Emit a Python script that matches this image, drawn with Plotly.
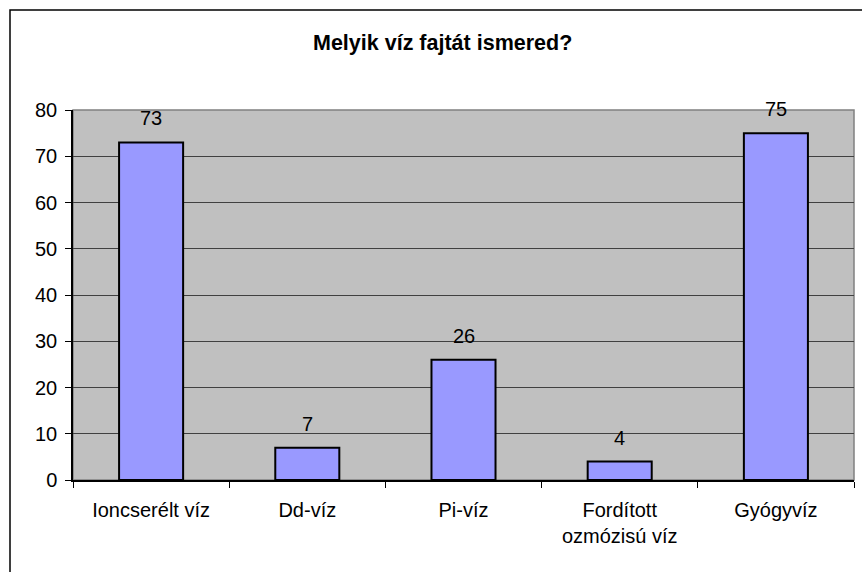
import plotly.graph_objects as go

categories = ["Ioncserélt víz", "Dd-víz", "Pi-víz", "Fordított<br>ozmózisú víz", "Gyógyvíz"]
values = [73, 7, 26, 4, 75]
y_ticks = [0, 10, 20, 30, 40, 50, 60, 70, 80]
title_text = "Melyik víz fajtát ismered?"

W, H = 862, 572
L, R, T, B = 73, 8, 110, 92
pw = W - L - R
ph = H - T - B

def px_x(p):
    return (p - L) / pw

def px_y(p):
    return (H - B - p) / ph

font = "Liberation Sans, Arial, sans-serif"

fig = go.Figure()
fig.add_trace(go.Bar(
    x=categories, y=values,
    marker=dict(color="#9999ff", line=dict(color="black", width=2)),
    hoverinfo="skip",
))

for c, v in zip(categories, values):
    fig.add_annotation(x=c, y=v, text=str(v), showarrow=False,
                       yanchor="bottom", yshift=11,
                       font=dict(family=font, size=20, color="black"))

fig.add_annotation(xref="paper", yref="paper", x=px_x(442), y=px_y(43),
                   text="<b>" + title_text + "</b>", showarrow=False,
                   xanchor="center", yanchor="middle",
                   font=dict(family=font, size=21.5, color="black"))

# plot area border (gray)
fig.add_shape(type="rect", xref="paper", yref="paper", x0=0, y0=0, x1=1, y1=1,
              line=dict(color="#808080", width=1.5), layer="below")
# outer chart border
fig.add_shape(type="rect", xref="paper", yref="paper",
              x0=px_x(10), y0=px_y(10), x1=px_x(880), y1=px_y(590),
              line=dict(color="black", width=1.5))

fig.update_layout(
    width=W, height=H,
    margin=dict(l=L, r=R, t=T, b=B, autoexpand=False),
    paper_bgcolor="white",
    plot_bgcolor="#c0c0c0",
    bargap=0.59,
    showlegend=False,
    font=dict(family=font, size=20, color="black"),
    xaxis=dict(
        type="category", showline=True, linecolor="black", linewidth=1.5,
        ticks="outside", tickson="boundaries", ticklen=6, tickcolor="black",
        showgrid=False, tickfont=dict(size=20), fixedrange=True, automargin=False,
        ticklabelstandoff=11,
    ),
    yaxis=dict(
        range=[0, 80], tickvals=y_ticks, showline=True, linecolor="black", linewidth=1.5,
        ticks="outside", ticklen=6, tickcolor="black",
        showgrid=True, gridcolor="#404040", gridwidth=1, zeroline=False,
        tickfont=dict(size=20), fixedrange=True, automargin=False,
        ticklabelstandoff=4,
    ),
)

fig.write_html("out.html", config={"displayModeBar": False},
               post_script="document.body.style.margin='0';")
